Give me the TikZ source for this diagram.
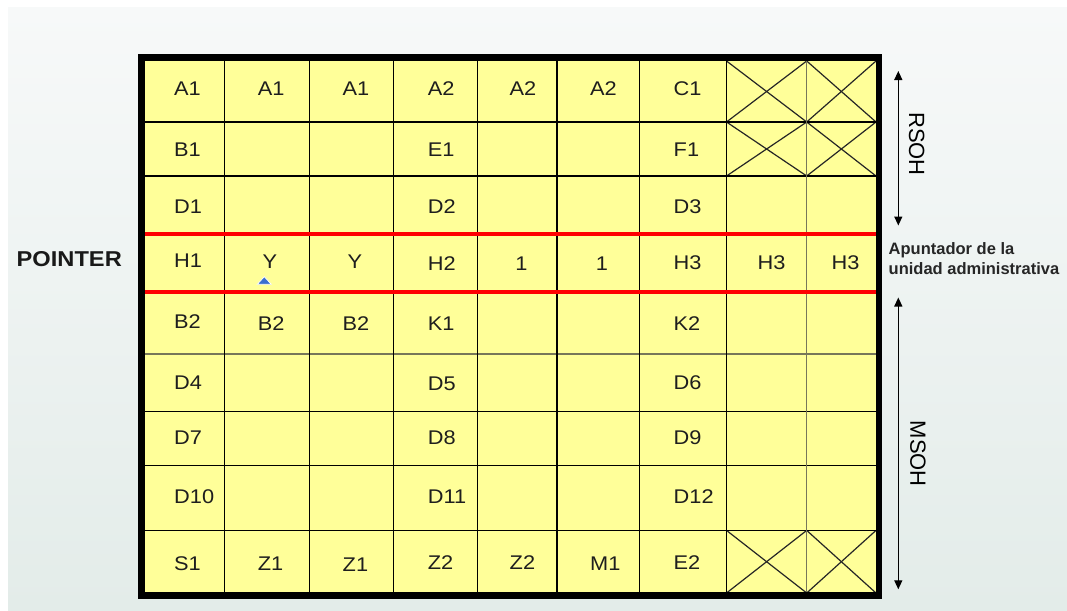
\documentclass[tikz,border=0pt]{standalone}
\usepackage{fontspec}
\setmainfont{Liberation Sans}
\newfontfamily\cellfont[FakeStretch=1.1]{Liberation Sans}
\usetikzlibrary{arrows.meta}
\definecolor{cellyellow}{HTML}{FFFF99}
\definecolor{txt}{HTML}{1E1E1E}
\definecolor{gridolive}{HTML}{77775A}
\definecolor{bgA}{HTML}{F7F9F9}
\definecolor{bgB}{HTML}{E3ECE9}
\definecolor{tri}{HTML}{3A6ED0}
\begin{document}
\begin{tikzpicture}[x=1pt,y=-1pt,
  cell/.style={anchor=base west,inner sep=0pt,font=\cellfont\fontsize{19.8}{24}\selectfont,text=txt},
  cellc/.style={anchor=base,inner sep=0pt,font=\cellfont\fontsize{19.8}{24}\selectfont,text=txt},
  gridline/.style={line width=1.4pt,draw=black},
  crossline/.style={line width=1.2pt,draw=black!85},
  redline/.style={line width=4.5pt,draw=red},
  sideLabel/.style={inner sep=0pt,font=\fontsize{22}{26}\selectfont,text=black},
  dimarrow/.style={line width=1.3pt,{Triangle[length=9pt,width=8pt]}-{Triangle[length=9pt,width=8pt]}}
]
\useasboundingbox (0,0) rectangle (1067,610);
\fill[white] (0,0) rectangle (1067,610);
\shade[top color=bgA,bottom color=bgB] (8,8) rectangle (1067,610);

% grid background
\fill[cellyellow] (141.7,57.7) rectangle (879,595.5);

% crossed cells
\foreach \ya/\yb in {61/122,122/176,530.4/593}{
  \draw[crossline] (726.5,\ya) -- (806.7,\yb);
  \draw[crossline] (726.5,\yb) -- (806.7,\ya);
  \draw[crossline] (806.7,\ya) -- (876,\yb);
  \draw[crossline] (806.7,\yb) -- (876,\ya);
}

% grid lines
\foreach \y in {122,176,411.7,465.4,530.4} \draw[gridline] (145,\y) -- (876,\y);
\draw[gridline,draw=gridolive] (145,354) -- (876,354);
\foreach \x in {224.5,309.7,393.5,477.2,557,639.4,726.5} \draw[gridline] (\x,61) -- (\x,593);
\draw[gridline,draw=gridolive] (806.7,61) -- (806.7,593);

% red pointer lines
\draw[redline] (145,234) -- (876,234);
\draw[redline] (145,292) -- (876,292);

% outer frame
\draw[line width=6.5pt] (141.7,57.7) rectangle (879,595.5);

% row 1
\node[cell] (r1c1) at (174,95.3) {A1};
\node[cell] (r1c2) at (257.7,95.3) {A1};
\node[cell] (r1c3) at (342.5,95.3) {A1};
\node[cell] (r1c4) at (427.7,95.3) {A2};
\node[cell] (r1c5) at (509.5,95.3) {A2};
\node[cell] (r1c6) at (590,95.3) {A2};
\node[cell] (r1c7) at (673.5,95.3) {C1};
% row 2
\node[cell] (r2c1) at (174,156) {B1};
\node[cell] (r2c4) at (427.7,156) {E1};
\node[cell] (r2c7) at (673.5,156) {F1};
% row 3
\node[cell] (r3c1) at (174,213.5) {D1};
\node[cell] (r3c4) at (427.7,213.5) {D2};
\node[cell] (r3c7) at (673.5,213.5) {D3};
% row 4 (pointer)
\node[cell] (r4c1) at (174,267.5) {H1};
\node[cellc] (r4c2) at (270,268.3) {Y};
\node[cellc] (r4c3) at (355,268.3) {Y};
\node[cell] (r4c4) at (427.7,270) {H2};
\node[cellc] (r4c5) at (521.5,270) {1};
\node[cellc] (r4c6) at (602,270) {1};
\node[cell] (r4c7) at (673.5,269.5) {H3};
\node[cell] (r4c8) at (757.5,269.5) {H3};
\node[cell] (r4c9) at (831.5,269.5) {H3};
\fill[tri,draw=white,line width=0.7pt] (257.3,284.3) -- (264.3,276.7) -- (271.3,284.3) -- cycle;
% row 5
\node[cell] (r5c1) at (174,328.5) {B2};
\node[cell] (r5c2) at (257.7,330) {B2};
\node[cell] (r5c3) at (342.5,330) {B2};
\node[cell] (r5c4) at (427.7,330) {K1};
\node[cell] (r5c7) at (673.5,330) {K2};
% row 6
\node[cell] (r6c1) at (174,389.5) {D4};
\node[cell] (r6c4) at (427.7,390) {D5};
\node[cell] (r6c7) at (673.5,389.5) {D6};
% row 7
\node[cell] (r7c1) at (174,444.3) {D7};
\node[cell] (r7c4) at (427.7,444.3) {D8};
\node[cell] (r7c7) at (673.5,444.3) {D9};
% row 8
\node[cell] (r8c1) at (174,503) {D10};
\node[cell] (r8c4) at (427.7,503.2) {D11};
\node[cell] (r8c7) at (673.5,503.5) {D12};
% row 9
\node[cell] (r9c1) at (174,570) {S1};
\node[cell] (r9c2) at (257.7,570) {Z1};
\node[cell] (r9c3) at (342.5,571.5) {Z1};
\node[cell] (r9c4) at (427.7,569.5) {Z2};
\node[cell] (r9c5) at (509.5,569.5) {Z2};
\node[cell] (r9c6) at (590,570.7) {M1};
\node[cell] (r9c7) at (673.5,569.5) {E2};

% left label
\node[anchor=base west,inner sep=0pt,font=\cellfont\fontsize{21.5}{26}\selectfont\bfseries,text=black!90] (pointer) at (16.5,266.7) {POINTER};

% right labels
\node[anchor=base west,inner sep=0pt,font=\fontsize{16.5}{20}\selectfont\bfseries,text=black!85] (apunt1) at (888.5,254.3) {Apuntador de la};
\node[anchor=base west,inner sep=0pt,font=\fontsize{16.5}{20}\selectfont\bfseries,text=black!85] (apunt2) at (888.5,274.3) {unidad administrativa};

\coordinate (rsohT) at (898.3,71);
\coordinate (rsohB) at (898.3,225.5);
\draw[dimarrow] (rsohT) -- (rsohB);
\node[sideLabel,rotate=-90] (rsoh) at (916.7,144) {RSOH};

\coordinate (msohT) at (898.3,297.5);
\coordinate (msohB) at (898.3,589.3);
\draw[dimarrow] (msohT) -- (msohB);
\node[sideLabel,rotate=-90] (msoh) at (918,453.7) {MSOH};
\end{tikzpicture}
\end{document}
